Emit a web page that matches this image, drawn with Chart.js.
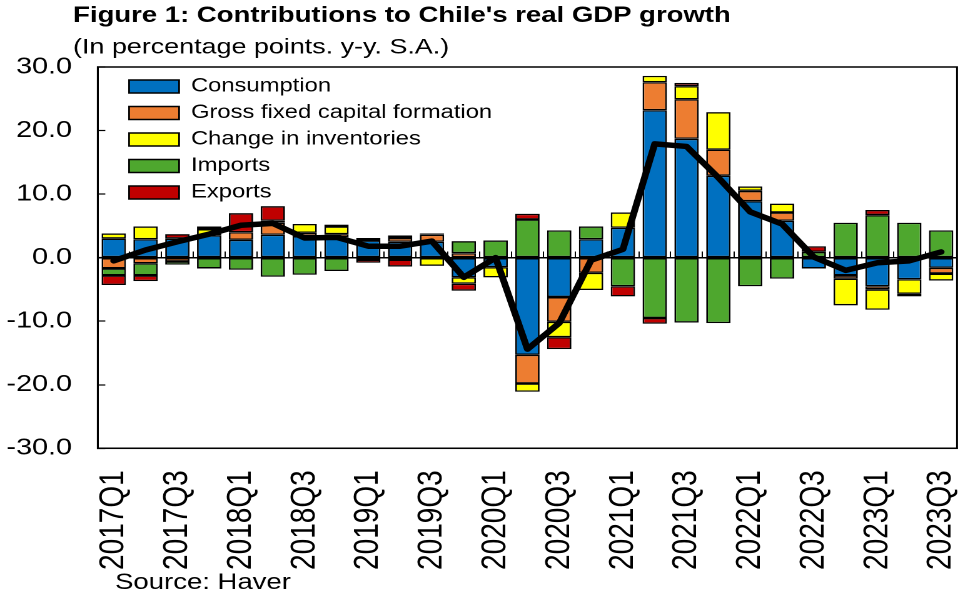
<!DOCTYPE html>
<html>
<head>
<meta charset="utf-8">
<title>Contributions to Chile's real GDP growth</title>
<script src="https://cdn.jsdelivr.net/npm/chart.js@4.4.1/dist/chart.umd.min.js"></script>
<style>
  html, body { margin: 0; padding: 0; background: #fff; overflow: hidden; }
  /* the original export is stretched sideways, so draw narrow and widen */
  #wrap { width: 766px; height: 596px; transform: scaleX(1.2507); transform-origin: 0 0; }
</style>
</head>
<body>
<div id="wrap"><canvas id="chart" width="766" height="596"></canvas></div>
<script>
// quarters on the x axis
const quarters = [
  '2017Q1', '2017Q2', '2017Q3', '2017Q4', '2018Q1', '2018Q2', '2018Q3', '2018Q4',
  '2019Q1', '2019Q2', '2019Q3', '2019Q4', '2020Q1', '2020Q2', '2020Q3', '2020Q4',
  '2021Q1', '2021Q2', '2021Q3', '2021Q4', '2022Q1', '2022Q2', '2022Q3', '2022Q4',
  '2023Q1', '2023Q2', '2023Q3'
];

// contributions, percentage points
const consumption = [3.0, 2.9, 3.0, 3.5, 2.8, 3.6, 3.4, 3.2, 2.7, 2.5, 2.5, -3.1, -1.5, -15.3, -6.2, 2.9,
  4.7, 23.2, 18.7, 12.9, 8.9, 5.8, -1.7, -2.8, -4.5, -3.4, -1.6];
const investment = [-1.7, -0.9, -0.6, 0, 1.2, 1.9, 0.5, 0.5, 0.4, 0.6, 1.1, 0.7, 0, -4.5, -3.9, -2.4,
  0, 4.4, 6.2, 4.1, 1.6, 1.3, 0, -0.5, -0.5, 0, -0.9];
const inventories = [0.8, 2.0, 0, 1.0, 0, 0.3, 1.4, 1.2, 0, -0.3, -1.3, -1.0, -1.6, -1.3, -2.4, -2.7,
  2.4, 1.0, 2.1, 5.9, 0.7, 1.4, 0, -4.2, -3.2, -2.3, -1.1];
const imports = [-1.1, -1.9, -0.5, -1.7, -1.9, -3.0, -2.7, -2.1, -0.3, 0.4, 0, 1.9, 2.7, 6.0, 4.3, 2.0,
  -4.5, -9.5, -10.2, -10.3, -4.5, -3.3, 0.9, 5.5, 6.7, 5.5, 4.3];
const exports = [-1.5, -0.9, 0.7, 0.4, 3.0, 2.3, 0, 0.3, -0.5, -1.1, 0.2, -1.1, 0, 0.9, -1.9, 0,
  -1.6, -0.9, 0.5, 0, 0, 0, 0.9, 0, 0.8, -0.4, 0];

// real GDP growth, y-y
const gdp = [-0.5, 1.2, 2.5, 3.7, 5.1, 5.4, 3.1, 3.2, 1.8, 1.8, 2.6, -3.1, 0.0, -14.4, -10.3, -0.4,
  1.3, 17.9, 17.5, 12.6, 7.2, 5.3, 0.1, -2.0, -0.8, -0.5, 0.9];

const yRange = [-30, 30];
const yStep = 10;

const FONT = "'Liberation Sans', Arial, sans-serif";
const colors = {
  consumption: '#0070C0',
  investment: '#ED7D31',
  inventories: '#FFFF00',
  imports: '#4EA72E',
  exports: '#C00000'
};

Chart.defaults.font.family = FONT;
Chart.defaults.color = '#000';

function barSet(label, data, color) {
  return {
    type: 'bar',
    label: label,
    data: data,
    backgroundColor: color,
    borderColor: '#000',
    borderWidth: 1.4,
    borderSkipped: false,
    stack: 'contrib',
    order: 1,
    barPercentage: 0.765,
    categoryPercentage: 1
  };
}

// box round the plot, title/legend placement and the source line
const extras = {
  id: 'extras',
  afterLayout(chart) {
    // titles start over the tick labels, not at the canvas edge
    chart.boxes.filter(b => b.position === 'top').forEach(b => { b.left += 58.4; });
    // legend sits inside the plot, a little off the axis
    chart.legend.left = chart.chartArea.left + 17.5;
    chart.legend.top = chart.chartArea.top + 2.5;
  },
  beforeDatasetsDraw(chart) {
    const { ctx, chartArea: a } = chart;
    ctx.save();
    ctx.strokeStyle = '#000';
    ctx.lineWidth = 1.5;
    ctx.strokeRect(a.left, a.top, a.right - a.left, a.bottom - a.top);
    ctx.restore();
  },
  afterDraw(chart) {
    const ctx = chart.ctx;
    ctx.save();
    ctx.font = '22px ' + FONT;
    ctx.fillStyle = '#000';
    ctx.textBaseline = 'alphabetic';
    ctx.fillText('Source: Haver', 92, 589);
    ctx.restore();
  }
};

new Chart(document.getElementById('chart'), {
  data: {
    labels: quarters,
    datasets: [
      barSet('Consumption', consumption, colors.consumption),
      barSet('Gross fixed capital formation', investment, colors.investment),
      barSet('Change in inventories', inventories, colors.inventories),
      barSet('Imports', imports, colors.imports),
      barSet('Exports', exports, colors.exports),
      {
        type: 'line',
        label: 'Real GDP growth',
        data: gdp,
        borderColor: '#000',
        borderWidth: 5.5,
        borderJoinStyle: 'round',
        borderCapStyle: 'round',
        pointRadius: 0,
        tension: 0,
        stack: 'gdp',
        order: 0
      }
    ]
  },
  options: {
    responsive: false,
    devicePixelRatio: 2,
    animation: false,
    layout: { padding: { left: 0, right: 0.8, top: 0, bottom: 0 } },
    plugins: {
      title: {
        display: true,
        text: "Figure 1: Contributions to Chile's real GDP growth",
        align: 'start',
        color: '#000',
        font: { size: 22, weight: 'bold' },
        padding: { top: 2.5, bottom: 0 }
      },
      subtitle: {
        display: true,
        text: '(In percentage points. y-y. S.A.)',
        align: 'start',
        color: '#000',
        font: { size: 21.5 },
        padding: { top: 5.75, bottom: 6.55 }
      },
      legend: {
        position: 'chartArea',
        align: 'start',
        fullSize: false,
        labels: {
          boxWidth: 40,
          boxHeight: 13,
          padding: 7.5,
          color: '#000',
          font: { size: 19 },
          filter: item => item.datasetIndex < 5
        }
      },
      tooltip: { enabled: false }
    },
    scales: {
      x: {
        type: 'category',
        stacked: true,
        offset: true,
        grid: { drawOnChartArea: false, drawTicks: false },
        border: { display: true, color: '#000', width: 1.5 },
        ticks: {
          autoSkip: false,
          minRotation: 90,
          maxRotation: 90,
          padding: 22,
          color: '#000',
          font: { size: 28 },
          callback: function (val, i) {
            return i % 2 === 0 ? this.getLabelForValue(val) : '';
          }
        },
        afterFit(scale) {
          scale.height = 147.7;
          scale.paddingLeft = 0;
          scale.paddingRight = 0;
        }
      },
      // zero line with the small category ticks on it
      x2: {
        type: 'category',
        position: { y: 0 },
        offset: true,
        grid: { offset: true, drawOnChartArea: false, drawTicks: true, tickLength: -7, tickColor: '#000', tickWidth: 1 },
        border: { display: true, color: '#000', width: 1.5, z: 1 },
        ticks: { display: false }
      },
      y: {
        stacked: true,
        min: yRange[0],
        max: yRange[1],
        grid: { drawOnChartArea: false, drawTicks: true, tickLength: -6, tickColor: '#000', tickWidth: 1.2 },
        border: { display: true, color: '#000', width: 1.5 },
        ticks: {
          stepSize: yStep,
          padding: 26.6,
          color: '#000',
          font: { size: 23 },
          callback: v => v.toFixed(1)
        },
        afterFit(scale) {
          scale.width = 78.2;
        }
      }
    }
  },
  plugins: [extras]
});
</script>
</body>
</html>
